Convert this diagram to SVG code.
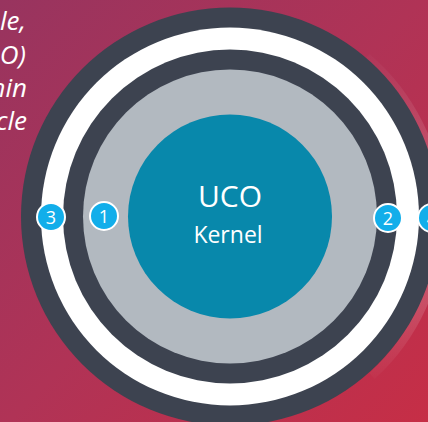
<svg xmlns="http://www.w3.org/2000/svg" width="428" height="422" viewBox="0 0 428 422">
  <defs>
    <linearGradient id="bg" x1="0" y1="0" x2="428" y2="422" gradientUnits="userSpaceOnUse">
      <stop offset="0" stop-color="#98345f"/>
      <stop offset="0.5" stop-color="#b03356"/>
      <stop offset="1" stop-color="#c62e46"/>
    </linearGradient>
    <linearGradient id="glow" x1="0" y1="40" x2="0" y2="390" gradientUnits="userSpaceOnUse">
      <stop offset="0" stop-color="#ffffff" stop-opacity="0"/>
      <stop offset="0.45" stop-color="#ffffff" stop-opacity="0.2"/>
      <stop offset="0.75" stop-color="#ffffff" stop-opacity="0.15"/>
      <stop offset="1" stop-color="#ffffff" stop-opacity="0"/>
    </linearGradient>
  </defs>
  <style>
    .caption { font-family: "Open Sans", "Noto Sans", sans-serif; font-style: italic; font-size: 26px; fill: #ffffff; text-anchor: end; }
    .core { font-family: "Open Sans", "Noto Sans", sans-serif; fill: #ffffff; text-anchor: middle; }
    .badge circle { fill: #12aeea; stroke: #ffffff; stroke-width: 2; }
    .badge text { font-family: "Open Sans", "Noto Sans", sans-serif; font-size: 18px; fill: #ffffff; text-anchor: middle; }
  </style>

  <!-- background -->
  <rect width="428" height="422" fill="url(#bg)"/>

  <!-- soft highlight along the outer ring -->
  <path d="M 367 57 A 213 213 0 0 1 372 376" fill="none" stroke="url(#glow)" stroke-width="8"/>

  <!-- concentric rings -->
  <g id="rings">
    <circle id="ring-outer" cx="230" cy="216.5" r="209" fill="#3d4350"/>
    <circle id="ring-white" cx="230" cy="216.5" r="189" fill="#ffffff"/>
    <circle id="ring-inner" cx="230" cy="216.5" r="167" fill="#3d4350"/>
    <circle id="ring-gray" cx="230" cy="216.5" r="147" fill="#b2b9c0"/>
  </g>

  <!-- caption, cut at the left edge -->
  <g id="caption">
    <text class="caption" x="26" y="30">le,</text>
    <text class="caption" x="26" y="64">O)</text>
    <text class="caption" x="27" y="97">hin</text>
    <text class="caption" x="27" y="130">cle</text>
  </g>

  <!-- kernel -->
  <g id="kernel">
    <circle cx="230" cy="216.5" r="102" fill="#0888ab"/>
    <text class="core" x="230" y="207" font-size="30">UCO</text>
    <text class="core" x="228" y="243" font-size="23">Kernel</text>
  </g>

  <!-- numbered markers -->
  <g id="badge-1" class="badge">
    <circle cx="104" cy="216" r="14"/>
    <text x="104" y="222.5">1</text>
  </g>
  <g id="badge-2" class="badge">
    <circle cx="388" cy="218" r="14"/>
    <text x="388" y="224.5">2</text>
  </g>
  <g id="badge-3" class="badge">
    <circle cx="51" cy="217" r="14"/>
    <text x="51" y="223.5">3</text>
  </g>
  <g id="badge-4" class="badge">
    <circle cx="432" cy="218" r="14"/>
    <text x="432" y="224.5">4</text>
  </g>
</svg>
